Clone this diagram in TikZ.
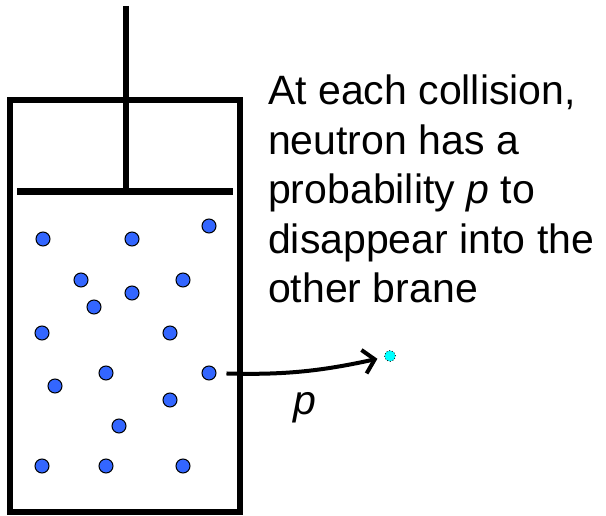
\documentclass[tikz,border=0pt]{standalone}
\usepackage{fontspec}
\setmainfont{Liberation Sans}
\usetikzlibrary{arrows.meta}
\definecolor{neutronblue}{RGB}{51,102,255}
\definecolor{lostcyan}{RGB}{0,255,255}
\tikzset{
    wall/.style={line width=6pt},
    neutron/.style={circle, draw=black, fill=neutronblue, line width=1pt, minimum size=14pt, inner sep=0pt},
    lostn/.style={circle, draw=black, dotted, fill=lostcyan, line width=0.8pt, minimum size=11pt, inner sep=0pt},
    leak/.style={-{Straight Barb[length=11pt, width=24pt]}, line width=4pt},
    desc/.style={font=\fontsize{41}{49.5}\selectfont, align=left, inner sep=0pt, anchor=north west}
}
\begin{document}
\begin{tikzpicture}[x=1pt, y=-1pt]
    \useasboundingbox (0,0) rectangle (606,516);
    % vessel, piston and rod
    \draw[wall] (10,100) rectangle (240,512);
    \draw[wall] (126,6) -- (126,192);
    \draw[line width=7pt] (17,192) -- (233,192);

    % neutrons in the vessel
    \foreach \x/\y [count=\i] in {43/239, 132/239, 209/226, 81/280, 183/280, 132/293, 94/307,
        42/333, 170/333, 106/373, 55/386, 170/400, 119/426, 42/466, 106/466, 183/466}
        \node[neutron] (n\i) at (\x,\y) {};
    \node[neutron] (escapee) at (209,373) {};
    \node[lostn] (lost) at (390,356) {};

    \draw[leak, shorten <=10pt, shorten >=7pt] (escapee) to[bend right=7] (lost);
    \node[font=\fontsize{41}{49.5}\selectfont\itshape] (plabel) at (305,408) {p};

    \node[desc] (note) at (268,75) {At each collision,\\neutron has a\\probability \textit{p} to\\disappear into the\\other brane};
\end{tikzpicture}
\end{document}
